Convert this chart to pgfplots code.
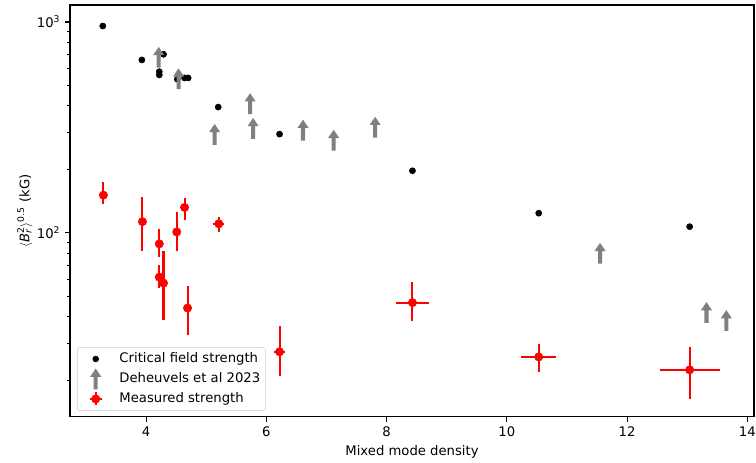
\documentclass[border=0pt]{standalone}
\usepackage{fontspec}
\setmainfont{DejaVu Sans}
\usepackage{pgfplots}
\usepackage{pgfplotstable}
\pgfplotsset{compat=1.18}
\definecolor{mred}{HTML}{FF0000}
\definecolor{mgray}{HTML}{808080}
\newcommand{\figfont}{\fontsize{9.5}{11.4}\selectfont}

% filled up-arrow, centred on the point (lower limits)
\pgfdeclareplotmark{uparr}{%
  \pgfpathmoveto{\pgfpoint{-1.45pt}{-7.5pt}}%
  \pgfpathlineto{\pgfpoint{-1.45pt}{1.6pt}}%
  \pgfpathlineto{\pgfpoint{-4pt}{1.6pt}}%
  \pgfpathlineto{\pgfpoint{0pt}{7.5pt}}%
  \pgfpathlineto{\pgfpoint{4pt}{1.6pt}}%
  \pgfpathlineto{\pgfpoint{1.45pt}{1.6pt}}%
  \pgfpathlineto{\pgfpoint{1.45pt}{-7.5pt}}%
  \pgfpathclose
  \pgfusepathqfill}

\pgfplotstableread{
x y
3.28 957
3.93 661
4.29 703
4.22 581
4.22 561
4.52 535
4.64 543
4.70 543
5.20 395
6.22 294
8.43 197
10.53 124
13.04 107
}\critical

\pgfplotstableread{
x y
4.21 680
4.54 538
5.73 410
5.14 293
5.78 313
6.61 307
7.12 275
7.81 317
11.55 80
13.32 41.9
13.65 38.4
}\deheuvels

\pgfplotstableread{
x y ex ep em
3.29 151 0 23 14
3.94 113 0 34.6 30.6
4.22 88.7 0 15.3 11.5
4.22 61.7 0 8.6 6.7
4.29 57.8 0 24.4 19.1
4.51 101 0 24 18.6
4.64 132 0 14.6 17
4.69 44 0 12.1 11.1
5.21 110.4 0.09 8.2 9.4
6.22 27.3 0.09 8.7 6.4
8.43 46.7 0.27 12 8.7
10.53 25.8 0.29 4 3.8
13.04 22.4 0.5 6.5 6.1
}\measured

\begin{document}
\begin{tikzpicture}
\begin{axis}[
  scale only axis, width=492.5pt, height=296.6pt,
  ymode=log,
  xmin=2.735, xmax=14.11, ymin=13.4, ymax=1204,
  xtick={4,6,8,10,12,14},
  ytick={100,1000}, yticklabels={10\textsuperscript{2},10\textsuperscript{3}},
  minor ytick={20,30,40,50,60,70,80,90,200,300,400,500,600,700,800,900},
  xtick pos=bottom, ytick pos=left, tick align=outside,
  major tick length=3.5pt, minor tick length=2pt,
  major tick style={black, line width=0.8pt},
  minor tick style={black, line width=0.6pt},
  axis line style={line width=0.8pt},
  /pgf/number format/assume math mode=true,
  ticklabel style={font=\figfont},
  label style={font=\figfont},
  xlabel={Mixed mode density},
  ylabel={$\langle \mathit{B}_{\mathit{r}}^{\mathrm{2}}\rangle^{\mathrm{0.5}}$ (kG)},
  xlabel style={at={(axis description cs:0.5,-0.085)}, anchor=center},
  ylabel style={at={(axis description cs:-0.066,0.5)}, anchor=center},
  legend cell align=left,
  legend style={at={(0.0102,0.0146)}, anchor=south west,
    draw=white!80!black, rounded corners=2pt, fill=white,
    font=\figfont,
    inner sep=3.8pt, row sep=5.2pt, column sep=7.6pt,
    nodes={inner sep=0pt, text height=7pt, text depth=2.2pt}},
]
\addplot[only marks, mark=*, mark size=2.2pt, black,
  legend image code/.code={\path[draw=none,fill=none] (0pt,-2pt) rectangle (19pt,2pt);
    \fill[black] (9.5pt,0pt) circle (2.1pt);}]
  table[x=x,y=y] {\critical};
\addlegendentry{Critical field strength}

\addplot[only marks, mark=uparr, mgray, mark options={fill=mgray, draw=none},
  legend image code/.code={\path[draw=none,fill=none] (0pt,-2pt) rectangle (19pt,2pt);
    \begin{scope}[overlay, shift={(9.5pt,0pt)}, fill=mgray]\pgfuseplotmark{uparr}\end{scope}}]
  table[x=x,y=y] {\deheuvels};
\addlegendentry{Deheuvels et al 2023}

\addplot[only marks, mark=*, mark size=3pt, mred,
  error bars/.cd, x dir=both, x explicit, y dir=both, y explicit,
  error mark=none, error bar style={line width=1.5pt, mred},
  /pgfplots/legend image code/.code={\path[draw=none,fill=none] (0pt,-2pt) rectangle (19pt,2pt);
    \draw[overlay, mred, line width=1.5pt] (9.5pt,-4.7pt) -- (9.5pt,4.7pt)
      (5.3pt,0pt) -- (13.7pt,0pt);
    \fill[overlay, mred] (9.5pt,0pt) circle (3pt);}]
  table[x=x, y=y, x error=ex, y error plus=ep, y error minus=em] {\measured};
\addlegendentry{Measured strength}

\coordinate (sw) at (rel axis cs:0,0);
\coordinate (ne) at (rel axis cs:1,1);
\end{axis}
\pgfresetboundingbox
\path ([shift={(-50.4pt,-33.1pt)}]sw) rectangle ([shift={(1.44pt,3.6pt)}]ne);
\end{tikzpicture}
\end{document}
